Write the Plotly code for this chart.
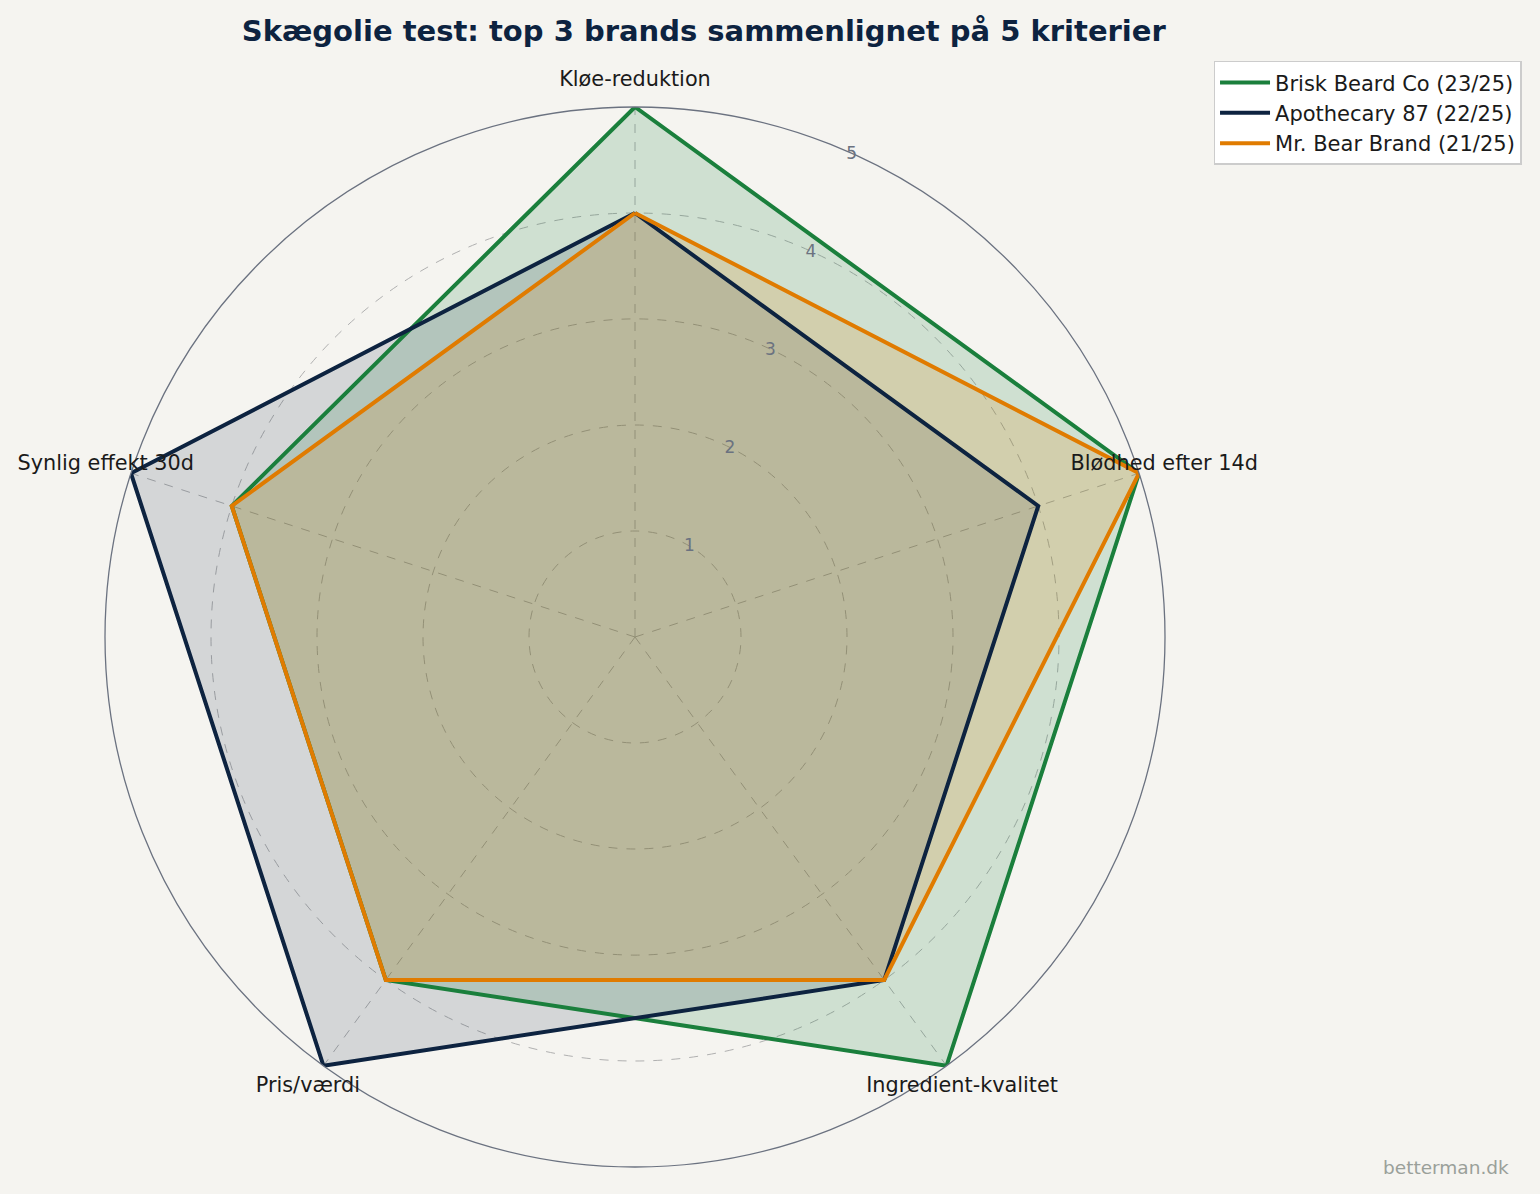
import plotly.graph_objects as go

# Criteria, in clockwise order starting at the top
criteria = ["Kløe-reduktion", "Blødhed efter 14d", "Ingredient-kvalitet",
            "Pris/værdi", "Synlig effekt 30d"]

brands = ["Brisk Beard Co", "Apothecary 87", "Mr. Bear Brand"]
brisk_scores = [5, 5, 5, 4, 4]
apothecary_scores = [4, 4, 4, 5, 5]
mrbear_scores = [4, 5, 4, 4, 4]

radial_ticks = [1, 2, 3, 4, 5]

line_colors = ["#1a7f3c", "#0d2340", "#e07b00"]
fill_colors = ["rgba(26,127,60,0.17)", "rgba(13,35,64,0.14)", "rgba(224,123,0,0.17)"]

BG = "#f5f4f0"
R_MAX = 5
LABEL_R = 5.25  # criterion labels sit centred just outside the outer ring
all_scores = [brisk_scores, apothecary_scores, mrbear_scores]

# centre and radius of the main polar area, in pixels
W, H = 1540, 1194
CX, CY, RAD = 635, 637, 530
lab_rad = RAD * LABEL_R / R_MAX + 0.5

fig = go.Figure()

# fills first, so every outline sits on top
for scores, fc in zip(all_scores, fill_colors):
    fig.add_trace(go.Scatterpolar(
        r=scores + scores[:1],
        theta=criteria + criteria[:1],
        mode="lines",
        line=dict(width=0, color=fc),
        fill="toself",
        fillcolor=fc,
        showlegend=False,
        hoverinfo="skip",
    ))

for name, scores, lc in zip(brands, all_scores, line_colors):
    fig.add_trace(go.Scatterpolar(
        r=scores + scores[:1],
        theta=criteria + criteria[:1],
        name=f"{name} ({sum(scores)}/25)",
        mode="lines",
        line=dict(color=lc, width=4),
    ))

# criterion labels on a second, invisible polar with a slightly larger range
fig.add_trace(go.Scatterpolar(
    r=[LABEL_R] * len(criteria),
    theta=criteria,
    mode="text",
    text=criteria,
    textposition="middle center",
    textfont=dict(size=20.8, color="#1a1a1a"),
    cliponaxis=False,
    showlegend=False,
    hoverinfo="skip",
    subplot="polar2",
))

fig.update_layout(
    width=W, height=H,
    paper_bgcolor=BG,
    plot_bgcolor=BG,
    margin=dict(l=0, r=0, t=0, b=0),
    font=dict(family="DejaVu Sans", size=20, color="#1a1a1a"),
    title=dict(
        text="<b>Skægolie test: top 3 brands sammenlignet på 5 kriterier</b>",
        x=0.457, xanchor="center", y=0.974, yanchor="middle",
        font=dict(size=29, color="#0d2340"),
    ),
    polar=dict(
        bgcolor=BG,
        domain=dict(x=[(CX - RAD) / W, (CX + RAD) / W],
                    y=[1 - (CY + RAD) / H, 1 - (CY - RAD) / H]),
        angularaxis=dict(
            direction="clockwise", rotation=90,
            showline=True, linecolor="#6b7280", linewidth=1.3,
            gridcolor="#b0b0b0", griddash="dash", gridwidth=1.2,
            ticks="", showticklabels=False,
        ),
        radialaxis=dict(
            range=[0, R_MAX], tickvals=radial_ticks, angle=67.5, tickangle=67.5,
            showline=False, ticks="",
            gridcolor="#b0b0b0", griddash="dash", gridwidth=1.2,
            tickfont=dict(size=17, color="#6b7280"),
        ),
    ),
    polar2=dict(
        bgcolor="rgba(0,0,0,0)",
        domain=dict(x=[(CX - lab_rad) / W, (CX + lab_rad) / W],
                    y=[max(0, 1 - (CY + lab_rad) / H), 1 - (CY - lab_rad) / H]),
        angularaxis=dict(
            direction="clockwise", rotation=90,
            showline=False, showgrid=False, ticks="", showticklabels=False,
        ),
        radialaxis=dict(
            range=[0, LABEL_R + 0.005], visible=False,
            showline=False, showgrid=False, ticks="", showticklabels=False,
        ),
    ),
    legend=dict(
        x=0.788, y=0.949, xanchor="left", yanchor="top",
        bgcolor="white", bordercolor="#cccccc", borderwidth=1.5,
        font=dict(size=21, color="#1a1a1a"),
        itemwidth=50,
    ),
    annotations=[dict(
        text="betterman.dk", xref="paper", yref="paper",
        x=0.981, y=0.012, xanchor="right", yanchor="bottom",
        showarrow=False, font=dict(size=18.5, color="#9aa09a"),
    )],
)

fig.write_html("out.html", config={"displayModeBar": False},
               post_script="document.body.style.margin='0';")
